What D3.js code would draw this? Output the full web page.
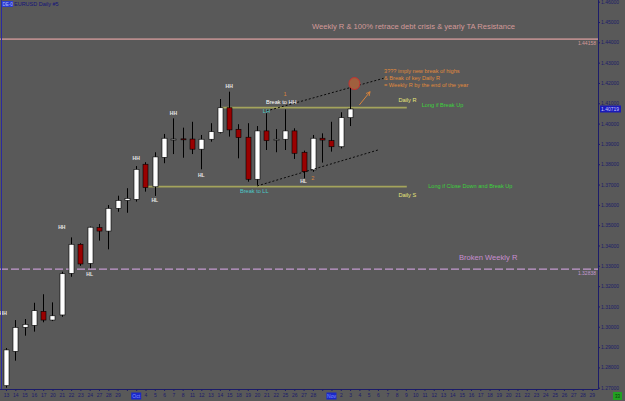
<!DOCTYPE html>
<html>
<head>
  <meta charset="utf-8">
  <title>EURUSD Daily</title>
  <script src="https://d3js.org/d3.v7.min.js"></script>
  <style>
    body { margin: 0; background: #595959; }
    svg { display: block; font-family: "Liberation Sans", Arial, sans-serif; }
  </style>
</head>
<body>
  <div class="graph"></div>

<script>
  /* Data: EURUSD daily bars, Sep 13 - Nov 3 */
  const open  = [1.2710, 1.2879, 1.2997, 1.3007, 1.3076, 1.3033, 1.3058, 1.3263, 1.3406, 1.3312,
                 1.3488, 1.3471, 1.3583, 1.3622, 1.3627, 1.3800, 1.3689, 1.3834, 1.3922, 1.3925,
                 1.3924, 1.3874, 1.3923, 1.3957, 1.4078, 1.3972, 1.3933, 1.3726, 1.3964, 1.3921,
                 1.3923, 1.3964, 1.3859, 1.3772, 1.3928, 1.3916, 1.3886, 1.4029];
  const high  = [1.2895, 1.3033, 1.3038, 1.3118, 1.3160, 1.3120, 1.3271, 1.3440, 1.3411, 1.3493,
                 1.3506, 1.3599, 1.3645, 1.3682, 1.3791, 1.3810, 1.3859, 1.3949, 1.4026, 1.3980,
                 1.4009, 1.3944, 1.4002, 1.4121, 1.4157, 1.3997, 1.4002, 1.3988, 1.4051, 1.3973,
                 1.4070, 1.3977, 1.3867, 1.3944, 1.3952, 1.4009, 1.4056, 1.4185];
  const low   = [1.2700, 1.2833, 1.2956, 1.2976, 1.3022, 1.3028, 1.3049, 1.3246, 1.3300, 1.3288,
                 1.3424, 1.3381, 1.3566, 1.3561, 1.3616, 1.3665, 1.3644, 1.3805, 1.3850, 1.3832,
                 1.3850, 1.3775, 1.3911, 1.3952, 1.3936, 1.3829, 1.3714, 1.3698, 1.3870, 1.3859,
                 1.3870, 1.3826, 1.3731, 1.3763, 1.3808, 1.3862, 1.3878, 1.3988];
  const close = [1.2886, 1.2997, 1.3012, 1.3079, 1.3033, 1.3054, 1.3261, 1.3406, 1.3309, 1.3490,
                 1.3471, 1.3583, 1.3622, 1.3632, 1.3775, 1.3685, 1.3836, 1.3928, 1.3924, 1.3923,
                 1.3874, 1.3923, 1.3960, 1.4078, 1.3969, 1.3931, 1.3726, 1.3964, 1.3916, 1.3923,
                 1.3964, 1.3854, 1.3763, 1.3928, 1.3919, 1.3886, 1.4029, 1.40719];

  /* time axis labels, one per slot (bars + empty shift area) */
  const dayLabels = ['13','14','15','16','17','20','21','22','23','24','27','28','29','','',
                     '4','5','6','7','8','11','12','13','14','15','18','19','20','21','22',
                     '25','26','27','28','','','2','3',
                     '4','5','6','7','8','9','10','11','12','13','14','15','16','17','18','19',
                     '20','21','22','23','24','25','26','27','28','29'];
  const monthIdx = [14, 35];
  const monthNames = ['Oct', 'Nov'];

  const priceTicks = [1.27, 1.28, 1.29, 1.30, 1.31, 1.32, 1.33, 1.34, 1.35, 1.36,
                      1.37, 1.38, 1.39, 1.40, 1.41, 1.42, 1.43, 1.44, 1.45, 1.46];

  /* levels */
  const resistance = 1.44158;
  const brokenR = 1.32838;
  const dailyR = 1.40782, dailyRFrom = 23.2;
  const dailyS = 1.36894, dailySFrom = 15.1;
  const levelTo = 43.1;

  /* trend lines [idx, price] pairs */
  const upperTrend = [[28, 1.4062], [40.6, 1.4223]];
  const lowerTrend = [[27, 1.3693], [40, 1.3870]];

  /* swing labels */
  const swingText  = ['HH', 'HH', 'HL', 'HH', 'HL', 'HH', 'HL', 'HH', 'HL'];
  const swingIdx   = [-0.3, 6, 9, 14, 16, 18, 21, 24, 32];
  const swingPrice = [1.3068, 1.3493, 1.3260, 1.3832, 1.3622, 1.4051, 1.3746, 1.4185, 1.3716];

  /* centered notes */
  const noteText  = ['LH', 'Break to HH', '1', 'Break to LL', '2'];
  const noteIdx   = [28, 29.6, 30, 26.7, 33];
  const notePrice = [1.4063, 1.4106, 1.4147, 1.3667, 1.3731];
  const noteColor = ['#4cc8c8', '#ffffff', '#d8843c', '#4cc8c8', '#d8843c'];

  /* left aligned comments */
  const commentText  = ['Weekly R & 100% retrace debt crisis & yearly TA Resistance',
                        '3??? imply new break of highs', '& Break of key Daily R',
                        '= Weekly R by the end of the year',
                        'Daily R', 'Long if Break Up', 'Long if Close Down and Break Up',
                        'Daily S', 'Broken Weekly R'];
  const commentIdx   = [32.9, 40.65, 40.65, 40.65, 42.2, 44.7, 45.4, 42.2, 48.7];
  const commentPrice = [1.4477, 1.4259, 1.4224, 1.4190, 1.4116, 1.4092, 1.3693, 1.3650, 1.3342];
  const commentColor = ['#d49a9a', '#e08a3c', '#e08a3c', '#e08a3c', '#e6e67a', '#3cd23c',
                        '#3cd23c', '#e6e67a', '#c88ed0'];
  const commentSize  = [7.6, 5.6, 5.6, 5.6, 5.6, 5.6, 5.6, 5.6, 7.6];

  const target = [37.47, 1.4197];
  const arrow = [[38.0, 1.4092], [39.15, 1.4157]];

  /* Layout */
  const width = 625, height = 401;
  const plotRight = 598, plotBottom = 389;

  const x = d3.scaleLinear()
    .domain([-0.645, 63.66])
    .range([0, plotRight]);

  const y = d3.scaleLinear()
    .domain([1.27, 1.46])
    .range([387.7, 1.7]);

  const svg = d3.select('.graph')
    .append('svg')
    .attr('width', width)
    .attr('height', height);

  svg.append('rect')
    .attr('width', width)
    .attr('height', height)
    .attr('fill', '#595959');

  const plot = svg.append('g');
  plot.append('clipPath').attr('id', 'clip')
    .append('rect').attr('width', plotRight).attr('height', plotBottom);
  const inner = plot.append('g').attr('clip-path', 'url(#clip)');

  /* horizontal levels */
  inner.append('line')
    .attr('x1', 0).attr('x2', plotRight)
    .attr('y1', y(resistance)).attr('y2', y(resistance))
    .attr('stroke', '#b88c8c').attr('stroke-width', 1.6);

  inner.append('line')
    .attr('x1', 0).attr('x2', plotRight)
    .attr('y1', y(brokenR)).attr('y2', y(brokenR))
    .attr('stroke', '#c49ad0').attr('stroke-width', 1.2)
    .attr('stroke-dasharray', '8,3');

  [[dailyR, dailyRFrom], [dailyS, dailySFrom]].forEach(([p, from]) => {
    inner.append('line')
      .attr('x1', x(from)).attr('x2', x(levelTo))
      .attr('y1', y(p)).attr('y2', y(p))
      .attr('stroke', '#a4a45c').attr('stroke-width', 1.8);
  });

  /* candles */
  const bars = d3.range(open.length);
  inner.selectAll('.wick')
    .data(bars)
    .join('line')
    .attr('class', 'wick')
    .attr('x1', i => Math.round(x(i)) + 0.5)
    .attr('x2', i => Math.round(x(i)) + 0.5)
    .attr('y1', i => y(high[i]))
    .attr('y2', i => y(low[i]))
    .attr('stroke', '#000')
    .attr('stroke-width', 1);

  inner.selectAll('.body')
    .data(bars)
    .join('rect')
    .attr('class', 'body')
    .attr('x', i => Math.round(x(i)) - 2)
    .attr('width', 5)
    .attr('y', i => y(Math.max(open[i], close[i])))
    .attr('height', i => Math.max(1, Math.abs(y(open[i]) - y(close[i]))))
    .attr('fill', i => close[i] >= open[i] ? '#ffffff' : '#9a0000')
    .attr('stroke', '#000')
    .attr('stroke-width', 0.6);

  /* trend lines */
  [upperTrend, lowerTrend].forEach(t => {
    inner.append('line')
      .attr('x1', x(t[0][0])).attr('y1', y(t[0][1]))
      .attr('x2', x(t[1][0])).attr('y2', y(t[1][1]))
      .attr('stroke', '#000').attr('stroke-width', 0.9)
      .attr('stroke-dasharray', '2,2');
  });

  /* target circle and arrow */
  inner.append('ellipse')
    .attr('cx', x(target[0])).attr('cy', y(target[1]))
    .attr('rx', 5.5).attr('ry', 6)
    .attr('fill', '#a0603e').attr('stroke', '#c83030').attr('stroke-width', 1);

  svg.append('defs').append('marker')
    .attr('id', 'head')
    .attr('viewBox', '0 0 6 6')
    .attr('refX', 5).attr('refY', 3)
    .attr('markerWidth', 5).attr('markerHeight', 5)
    .attr('orient', 'auto')
    .append('path')
    .attr('d', 'M0,0.5 L5,3 L0,5.5')
    .attr('fill', 'none')
    .attr('stroke', '#d8843c');

  inner.append('line')
    .attr('x1', x(arrow[0][0])).attr('y1', y(arrow[0][1]))
    .attr('x2', x(arrow[1][0])).attr('y2', y(arrow[1][1]))
    .attr('stroke', '#d8843c').attr('stroke-width', 1)
    .attr('marker-end', 'url(#head)');

  /* swing labels */
  inner.selectAll('.swing')
    .data(swingText)
    .join('text')
    .attr('class', 'swing')
    .attr('x', (d, i) => x(swingIdx[i]))
    .attr('y', (d, i) => y(swingPrice[i]))
    .attr('text-anchor', 'middle')
    .attr('dominant-baseline', 'central')
    .attr('font-size', 5)
    .attr('font-weight', 'bold')
    .attr('fill', '#e6e6e6')
    .text(d => d);

  inner.selectAll('.note')
    .data(noteText)
    .join('text')
    .attr('class', 'note')
    .attr('x', (d, i) => x(noteIdx[i]))
    .attr('y', (d, i) => y(notePrice[i]))
    .attr('text-anchor', 'middle')
    .attr('dominant-baseline', 'central')
    .attr('font-size', 5.6)
    .attr('fill', (d, i) => noteColor[i])
    .text(d => d);

  inner.selectAll('.comment')
    .data(commentText)
    .join('text')
    .attr('class', 'comment')
    .attr('x', (d, i) => x(commentIdx[i]))
    .attr('y', (d, i) => y(commentPrice[i]))
    .attr('dominant-baseline', 'central')
    .attr('font-size', (d, i) => commentSize[i])
    .attr('fill', (d, i) => commentColor[i])
    .text(d => d);

  /* level price labels */
  [[resistance, '#d49a9a'], [brokenR, '#c49ad0']].forEach(([p, c]) => {
    inner.append('text')
      .attr('x', plotRight - 2)
      .attr('y', y(p) + 4)
      .attr('text-anchor', 'end')
      .attr('dominant-baseline', 'central')
      .attr('font-size', 5)
      .attr('fill', c)
      .text(p.toFixed(5));
  });

  /* Axes */
  const yAxis = d3.axisRight(y)
    .tickValues(priceTicks)
    .tickFormat(d3.format('.5f'))
    .tickSize(2)
    .tickPadding(1);

  const yg = svg.append('g')
    .attr('transform', `translate(${plotRight},0)`)
    .call(yAxis);
  yg.select('.domain').attr('d', `M0.5,0V${plotBottom}`);

  const xAxis = d3.axisBottom(x)
    .tickValues(d3.range(dayLabels.length))
    .tickFormat(i => dayLabels[i])
    .tickSize(2)
    .tickPadding(2);

  const xg = svg.append('g')
    .attr('transform', `translate(0,${plotBottom})`)
    .call(xAxis);
  xg.select('.domain').attr('d', `M0,0.5H${plotRight + 0.5}`);

  [yg, xg].forEach(g => {
    g.attr('font-size', 5).attr('font-family', null);
    g.selectAll('path, line').attr('stroke', '#1c1c6a');
    g.selectAll('text').attr('fill', '#1c1c6a');
  });

  /* month boxes */
  monthIdx.forEach((m, k) => {
    const gm = svg.append('g').attr('transform', `translate(${x(m)},${plotBottom + 7})`);
    gm.append('rect')
      .attr('x', -5).attr('y', -3.5).attr('width', 10).attr('height', 7)
      .attr('fill', '#1a28c8');
    gm.append('text')
      .attr('text-anchor', 'middle')
      .attr('dominant-baseline', 'central')
      .attr('font-size', 5)
      .attr('fill', '#8090ff')
      .text(monthNames[k]);
  });

  /* current price box */
  const cur = close[close.length - 1];
  svg.append('rect')
    .attr('x', plotRight + 2).attr('y', y(cur) - 3.5)
    .attr('width', 21).attr('height', 7)
    .attr('fill', '#1a1ab8');
  svg.append('text')
    .attr('x', plotRight + 3).attr('y', y(cur))
    .attr('dominant-baseline', 'central')
    .attr('font-size', 5)
    .attr('fill', '#c8c8ff')
    .text(cur.toFixed(5));

  /* left border, header and corner box */
  svg.append('line')
    .attr('x1', 1.5).attr('x2', 1.5).attr('y1', 0).attr('y2', plotBottom)
    .attr('stroke', '#2a2aa0').attr('stroke-width', 1);

  svg.append('rect')
    .attr('x', 2).attr('y', 1).attr('width', 11).attr('height', 6)
    .attr('fill', '#2a3cd0');
  svg.append('text')
    .attr('x', 2.5).attr('y', 4)
    .attr('dominant-baseline', 'central')
    .attr('font-size', 4.5)
    .attr('fill', '#b0b8ff')
    .text('DE-0');
  svg.append('text')
    .attr('x', 14).attr('y', 4)
    .attr('dominant-baseline', 'central')
    .attr('font-size', 5.5)
    .attr('fill', '#14147a')
    .text('EURUSD Daily #5');

  svg.append('rect')
    .attr('x', 613).attr('y', 392).attr('width', 9).attr('height', 8)
    .attr('fill', '#22a022');
  svg.append('text')
    .attr('x', 617.5).attr('y', 396)
    .attr('text-anchor', 'middle')
    .attr('dominant-baseline', 'central')
    .attr('font-size', 4.5)
    .attr('fill', '#0a3a0a')
    .text('33');
</script>
</body>
</html>
